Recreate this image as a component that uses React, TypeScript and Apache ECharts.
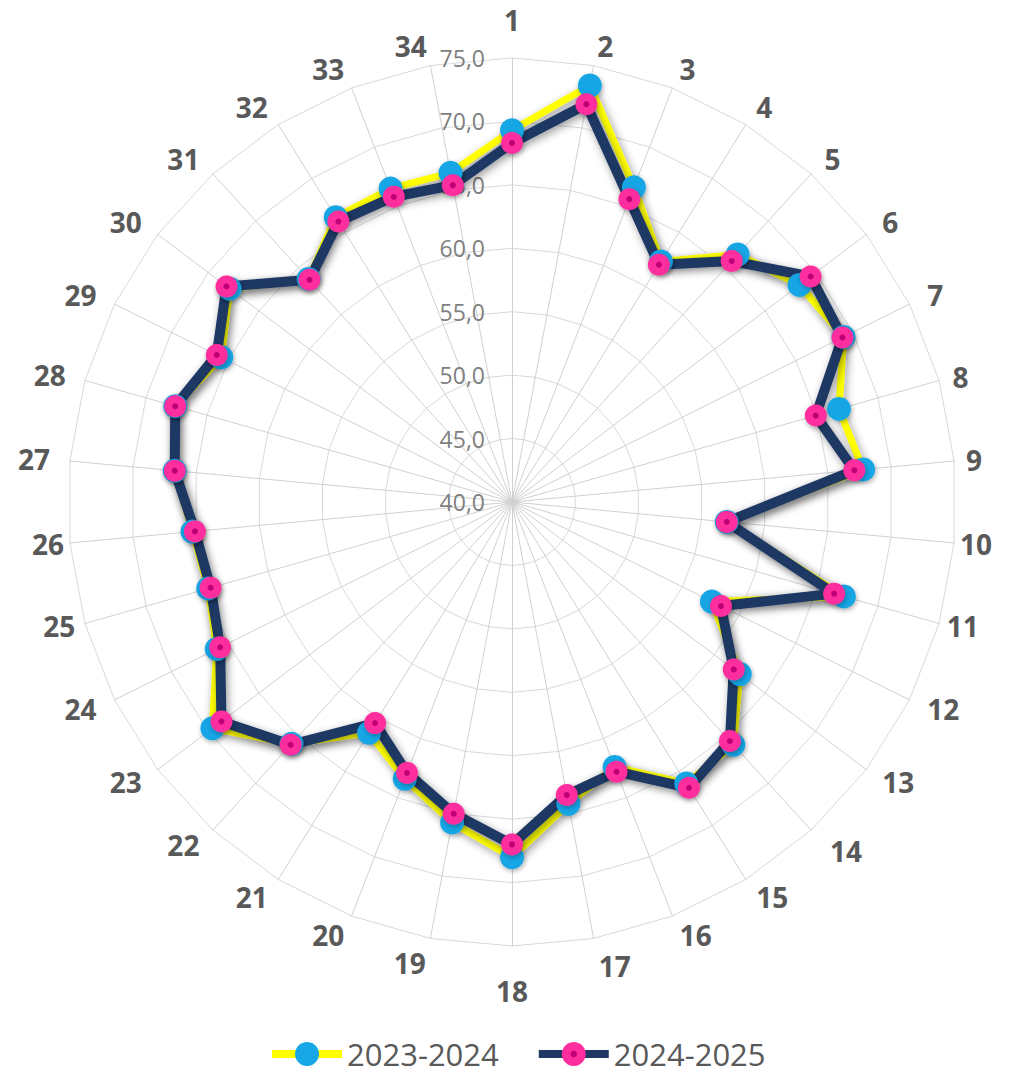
import React, { useEffect, useRef } from "react";
import * as echarts from "echarts";

const CATEGORIES = [
  "1", "2", "3", "4", "5", "6", "7", "8", "9", "10", "11", "12",
  "13", "14", "15", "16", "17", "18", "19", "20", "21", "22", "23", "24",
  "25", "26", "27", "28", "29", "30", "31", "32", "33", "34",
];

const SERIES_NAMES = ["2023-2024", "2024-2025"];

const VALUES_2023_2024 = [
  69.3, 73.4, 66.6, 62.3, 66.4, 68.4, 69.2, 66.8, 67.8, 57.0, 67.2, 57.6,
  62.5, 65.9, 66.1, 62.4, 64.2, 68.0, 65.7, 63.4, 61.4, 65.8, 69.6, 66.0,
  64.9, 65.3, 66.7, 67.6, 65.6, 67.9, 63.8, 66.4, 66.5, 66.4,
];

const VALUES_2024_2025 = [
  68.3, 71.9, 65.6, 62.0, 65.7, 69.5, 69.1, 64.9, 67.1, 57.0, 66.4, 58.4,
  61.9, 65.5, 66.5, 62.8, 63.5, 67.0, 65.0, 62.9, 60.5, 65.9, 68.7, 65.7,
  64.7, 65.1, 66.7, 67.6, 66.0, 68.2, 63.7, 66.0, 65.8, 65.4,
];

const AXIS_MIN = 40;
const AXIS_MAX = 75;
const AXIS_SPLITS = 7;

// label spacing (style only)
const DEFAULT_NAME_GAP = 20;
const NAME_GAP_BY_LABEL: Record<string, number> = {
  "1": 24, "8": 14, "9": 12, "10": 6, "11": 8, "14": 28, "17": 28,
  "18": 31, "19": 25, "25": 10, "26": 6,
};

const FONT = "'Open Sans', 'Liberation Sans', sans-serif";

export default function App() {
  const ref = useRef<HTMLDivElement>(null);

  useEffect(() => {
    if (!ref.current) return;
    const chart = echarts.init(ref.current, null, { renderer: "svg" });

    // ECharts radar runs counter-clockwise; reorder so the picture runs clockwise.
    const order = [0, ...CATEGORIES.map((_, i) => i).slice(1).reverse()];

    const indicator = order.map((i, k) => {
      const name = CATEGORIES[i];
      const ind: any = {
        name,
        min: AXIS_MIN,
        max: AXIS_MAX,
        nameGap: NAME_GAP_BY_LABEL[name] ?? DEFAULT_NAME_GAP,
      };
      if (k === 0) {
        ind.axisLabel = {
          show: true,
          color: "#7F7F7F",
          fontSize: 23,
          fontFamily: FONT,
          margin: 27,
          padding: [10, 0, 0, 0],
          formatter: (v: number) => v.toFixed(1).replace(".", ","),
        };
      }
      return ind;
    });

    const shadow = {
      shadowColor: "rgba(0,0,0,0.4)",
      shadowBlur: 8,
      shadowOffsetX: 2,
      shadowOffsetY: 3,
    };

    const yellowLine = { color: "#FFFF00", width: 7, ...shadow };
    const navyLine = { color: "#1F3864", width: 10, ...shadow };
    const blueItem = { color: "#17A6E6" };
    const pinkItem = {
      color: {
        type: "radial",
        x: 0.5,
        y: 0.5,
        r: 0.5,
        colorStops: [
          { offset: 0, color: "#B8006E" },
          { offset: 0.22, color: "#C0007A" },
          { offset: 0.32, color: "#FF2E9E" },
          { offset: 1, color: "#FF2E9E" },
        ],
      },
    };
    const markerShadow = {
      shadowColor: "rgba(0,0,0,0.3)",
      shadowBlur: 5,
      shadowOffsetX: 1,
      shadowOffsetY: 2,
    };

    const option: any = {
      animation: false,
      backgroundColor: "#ffffff",
      grid: { left: 0, top: 0, width: 1, height: 1, show: false },
      xAxis: { type: "value", show: false },
      yAxis: { type: "value", show: false },
      legend: {
        data: SERIES_NAMES,
        left: 268,
        top: 1038,
        padding: 0,
        itemWidth: 70,
        itemHeight: 30,
        itemGap: 36,
        selectedMode: false,
        lineStyle: { width: 8 },
        textStyle: { fontSize: 31, lineHeight: 32, color: "#595959", fontFamily: FONT },
      },
      radar: {
        center: [512, 502],
        radius: 444,
        startAngle: 90,
        splitNumber: AXIS_SPLITS,
        shape: "polygon",
        nameGap: DEFAULT_NAME_GAP,
        indicator,
        axisName: {
          color: "#595959",
          fontSize: 28,
          fontWeight: "bold",
          fontFamily: FONT,
        },
        axisLine: { lineStyle: { color: "#D0D0D0", width: 1 } },
        splitLine: { lineStyle: { color: "#D9D9D9", width: 1 } },
        splitArea: { show: false },
        axisTick: { show: false },
        axisLabel: { show: false },
      },
      series: [
        {
          type: "radar",
          silent: true,
          emphasis: { disabled: true },
          data: [
            {
              name: SERIES_NAMES[0],
              value: order.map((i) => VALUES_2023_2024[i]),
              symbol: "circle",
              symbolSize: 24,
              lineStyle: yellowLine,
              itemStyle: { ...blueItem, ...markerShadow },
            },
            {
              name: SERIES_NAMES[1],
              value: order.map((i) => VALUES_2024_2025[i]),
              symbol: "circle",
              symbolSize: 22,
              lineStyle: navyLine,
              itemStyle: { ...pinkItem, ...markerShadow },
            },
          ],
        },
        {
          type: "line",
          name: SERIES_NAMES[0],
          data: [],
          symbol: "circle",
          lineStyle: { color: "#FFFF00", width: 8 },
          itemStyle: blueItem,
        },
        {
          type: "line",
          name: SERIES_NAMES[1],
          data: [],
          symbol: "circle",
          lineStyle: { color: "#1F3864", width: 8 },
          itemStyle: pinkItem,
        },
      ],
    };

    chart.setOption(option);
    return () => chart.dispose();
  }, []);

  return (
    <div
      ref={ref}
      style={{ position: "absolute", left: 0, top: 0, width: 1014, height: 1074, background: "#fff" }}
    />
  );
}
